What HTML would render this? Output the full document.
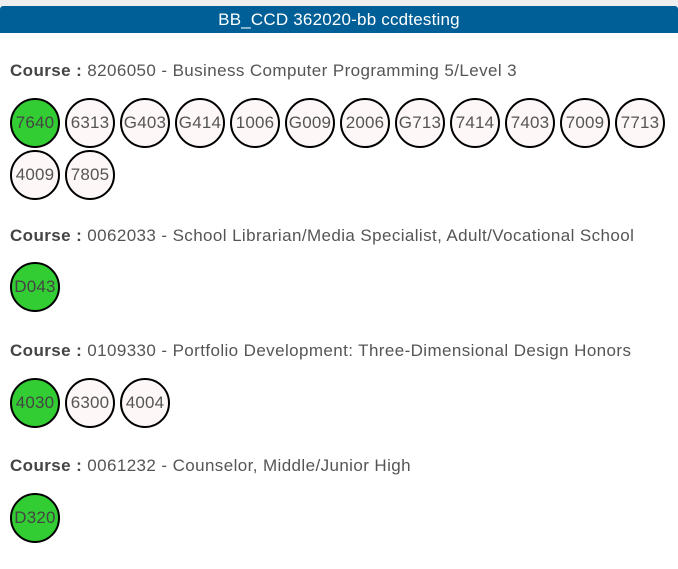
<!DOCTYPE html>
<html><head><meta charset="utf-8"><style>
body{margin:0;width:678px;height:569px;background:#fff;position:relative;overflow:hidden;font-family:"Liberation Sans",sans-serif;color:#555}
.top{position:absolute;left:0;top:0;width:678px;height:6px;background:#eee}
.hdr{position:absolute;left:0;top:6px;width:678px;height:27px;background:#005f96;color:#fff;font-size:17px;line-height:27px;text-align:center;border-radius:3px 3px 0 0;letter-spacing:0.2px}
.course{position:absolute;left:10px;font-size:17px;white-space:nowrap;letter-spacing:0.4px}
.course b{color:#444}
.c{position:absolute;width:46px;height:46px;border:2px solid #000;border-radius:50%;background:#fdf8f7;font-size:17px;line-height:46px;text-align:center;color:#555;letter-spacing:0.2px}
.g{background:#32cd32;color:#444}
</style></head><body>
<div class="top"></div>
<div class="hdr">BB_CCD 362020-bb ccdtesting</div>
<div id="root"></div>
<script>
const courses=[
 {y:61,label:"8206050 - Business Computer Programming 5/Level 3",codes:["7640","6313","G403","G414","1006","G009","2006","G713","7414","7403","7009","7713","4009","7805"],top:98},
 {y:226,label:"0062033 - School Librarian/Media Specialist, Adult/Vocational School",codes:["D043"],top:262},
 {y:341,label:"0109330 - Portfolio Development: Three-Dimensional Design Honors",codes:["4030","6300","4004"],top:378},
 {y:456,label:"0061232 - Counselor, Middle/Junior High",codes:["D320"],top:493}
];
const root=document.getElementById('root');
courses.forEach((c,ci)=>{
 const t=document.createElement('div');t.className='course';t.style.top=c.y+'px';
 
 
 t.innerHTML='<b>Course :</b> '+c.label;root.appendChild(t);
 c.codes.forEach((code,i)=>{
  const d=document.createElement('div');d.className='c'+(i===0?' g':'');
  const col=i%12,row=Math.floor(i/12);
  d.style.left=(10+col*55)+'px';d.style.top=(c.top+row*52)+'px';
  d.textContent=code;
  
  
  root.appendChild(d);
 });
});
</script>
</body></html>
